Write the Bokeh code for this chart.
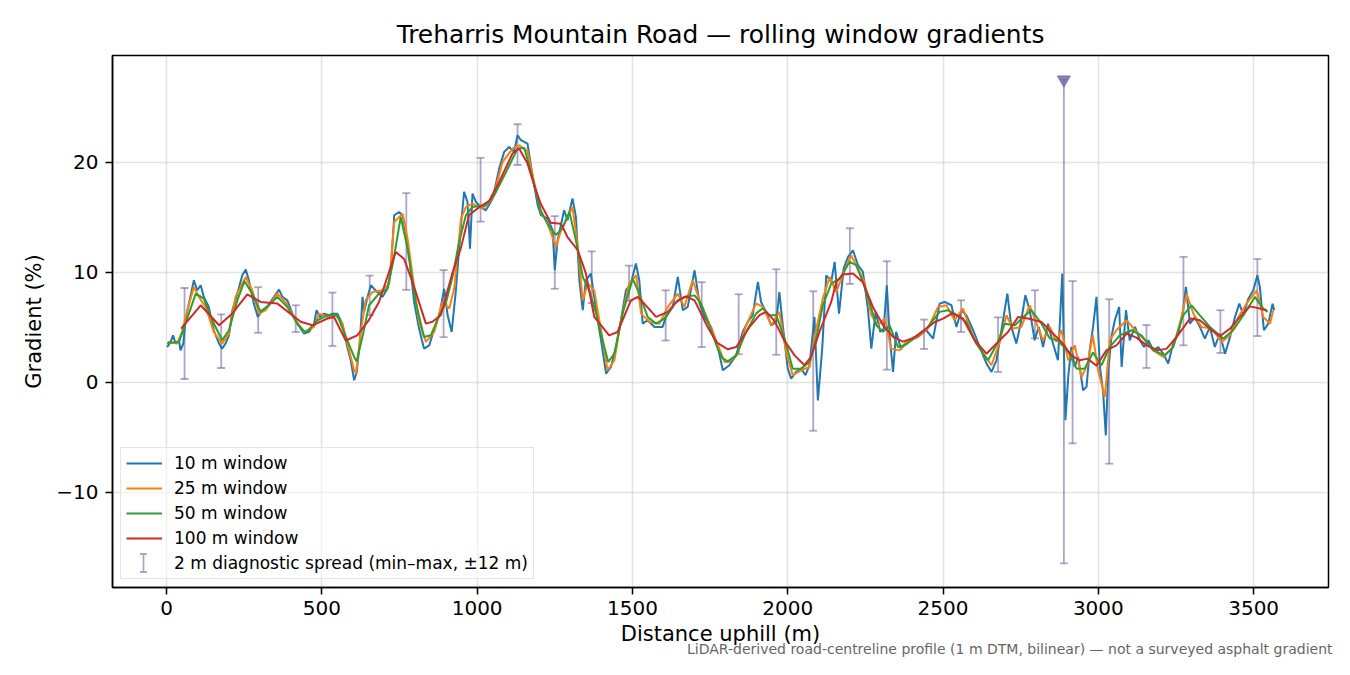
import numpy as np
from bokeh.plotting import figure
from bokeh.models import (Range1d, FixedTicker, Legend, LegendItem, Title, Whisker, TeeHead,
                          ColumnDataSource)
from bokeh.embed import file_html
from bokeh.resources import INLINE

# ---------------- data ----------------
w10_x = [2,13,21,29,40,45,54,61,72,88,99,110,120,136,152,169,179,190,201,212,228,244,255,265,281,294,308,324,346,362,373,389,405,421,443,459,475,483,494,507,523,534,550,566,582,593,604,612,622,631,636,647,658,668,679,695,711,722,733,749,760,770,781,797,813,829,846,862,878,894,905,918,931,948,958,969,977,985,996,1012,1028,1050,1071,1087,1103,1119,1130,1141,1162,1178,1195,1205,1227,1243,1250,1259,1280,1291,1307,1318,1329,1340,1350,1366,1383,1399,1415,1431,1447,1463,1479,1495,1511,1522,1533,1549,1571,1597,1608,1630,1646,1662,1678,1700,1716,1732,1753,1775,1791,1812,1834,1855,1871,1887,1904,1914,1930,1947,1963,1973,1984,2000,2011,2027,2043,2057,2070,2086,2097,2111,2124,2140,2151,2165,2180,2194,2210,2226,2242,2258,2269,2283,2298,2309,2319,2328,2339,2349,2365,2382,2392,2419,2446,2468,2489,2505,2527,2543,2559,2575,2597,2618,2640,2656,2672,2688,2707,2720,2736,2752,2765,2779,2795,2808,2822,2838,2854,2870,2884,2894,2903,2913,2924,2935,2951,2962,2972,2983,2994,3005,3015,3024,3032,3042,3053,3067,3075,3089,3101,3118,3134,3147,3161,3177,3193,3209,3225,3241,3257,3273,3282,3295,3311,3327,3343,3359,3375,3391,3408,3424,3440,3454,3467,3483,3499,3512,3520,3533,3547,3561,3566]
w10_y = [3.2,3.67,4.27,3.52,3.82,2.9,3.52,5.64,7.15,9.27,8.36,8.82,7.76,6.85,4.73,3.52,3.06,3.52,4.27,6.55,8.06,9.73,10.24,9.27,7.15,5.94,6.55,6.85,7.76,8.42,7.76,7.45,6.24,5.33,4.42,4.58,5.33,6.55,5.94,6.24,6.09,6.24,6.24,5.33,3.2,2.0,0.18,0.9,3.5,7.76,6.4,7.76,8.82,8.5,8.2,7.76,8.5,10.03,15.18,15.48,15.18,13.67,11.55,7.3,4.88,3.06,3.36,4.88,6.09,8.5,6.09,4.58,8.2,14.27,17.3,16.39,12.15,17.15,16.39,15.94,15.63,16.7,19.42,20.94,21.39,20.94,22.45,22.0,21.7,18.82,16.09,15.2,14.88,13.82,10.18,12.9,15.63,14.72,16.7,15.03,9.27,6.55,9.27,9.88,6.55,3.82,0.79,1.39,3.21,5.64,8.36,8.97,10.79,9.27,5.33,5.64,5.03,5.03,5.94,6.85,9.57,6.55,6.85,10.18,7.15,5.94,5.03,3.21,1.1,1.55,2.45,4.58,5.48,6.09,9.12,7.3,6.4,5.18,5.48,8.2,5.18,1.24,0.33,0.94,1.24,0.64,1.55,5.94,-1.64,3.06,9.73,9.12,10.94,6.24,10.33,11.39,12.0,10.64,10.03,6.7,3.06,6.39,4.58,4.88,8.82,4.27,0.94,4.58,3.0,3.67,3.82,4.12,4.73,3.97,7.15,7.3,7.0,5.03,6.55,6.09,4.73,3.21,1.7,0.94,2.0,4.73,8.06,5.03,3.52,5.64,7.91,6.55,3.82,5.03,3.21,5.33,3.52,2.0,9.88,-3.45,0.48,3.21,1.39,2.3,-0.73,-0.42,2.9,5.03,7.76,1.39,-0.73,-4.82,1.09,4.12,5.64,6.85,1.39,6.55,3.82,5.03,3.82,3.21,3.82,2.9,3.21,2.6,1.7,3.52,4.42,6.55,8.67,5.33,5.94,5.03,3.97,5.03,3.21,4.42,2.6,4.12,5.94,7.15,6.09,7.6,8.36,9.73,8.67,4.73,5.33,7.15,6.55]

w25_x = [4,34,50,67,88,104,126,152,179,201,222,255,276,298,319,357,383,416,443,475,491,518,545,566,588,604,610,625,641,663,695,717,733,760,776,792,813,835,862,888,910,926,948,964,985,1017,1050,1082,1114,1136,1162,1185,1205,1227,1254,1270,1291,1307,1324,1340,1356,1377,1399,1420,1442,1463,1490,1512,1528,1555,1587,1614,1646,1667,1694,1716,1743,1775,1796,1812,1839,1866,1898,1920,1947,1973,1995,2016,2043,2070,2092,2113,2135,2156,2183,2204,2226,2247,2269,2290,2312,2333,2360,2382,2409,2451,2484,2511,2537,2564,2597,2629,2656,2682,2704,2725,2752,2779,2801,2822,2844,2865,2881,2903,2924,2946,2965,2982,2999,3021,3037,3058,3091,3123,3150,3177,3209,3241,3268,3284,3306,3332,3365,3397,3424,3451,3477,3510,3531,3553,3563]
w25_y = [3.67,3.52,4.58,6.55,8.67,7.76,6.85,4.58,3.52,4.42,7.76,9.57,8.36,6.24,6.55,8.06,7.3,5.64,4.58,5.03,6.24,5.94,6.09,5.33,2.9,1.09,0.8,4.5,7.45,8.2,8.36,8.97,14.57,15.33,13.06,9.73,5.48,3.67,4.58,7.3,6.7,8.5,14.88,15.94,16.24,15.79,16.7,20.03,21.24,21.54,21.0,18.0,15.5,14.42,12.3,13.8,15.03,15.94,12.3,7.45,8.97,8.36,4.73,1.09,2.0,5.64,8.97,9.73,6.24,5.48,5.33,6.85,8.06,6.85,9.27,7.45,5.64,3.4,1.85,1.85,2.6,5.18,7.15,6.85,5.18,6.4,2.76,0.64,1.09,1.39,4.88,7.6,9.57,8.2,10.18,11.55,10.33,9.12,6.09,5.18,5.79,3.06,2.9,3.67,3.97,4.88,6.85,7.0,5.64,6.7,4.12,2.6,1.55,3.67,6.09,4.88,5.03,7.0,5.33,3.82,5.03,3.67,4.73,2.0,3.36,0.48,1.6,4.3,1.1,-1.33,3.82,4.73,5.64,4.58,3.82,2.9,2.3,3.21,5.94,8.06,6.24,5.03,4.88,3.67,4.27,5.94,7.15,8.36,5.94,5.33,6.55]

w50_x = [2,40,61,94,120,147,179,201,228,251,276,303,335,357,389,421,448,486,518,550,582,604,612,632,652,684,711,730,754,776,802,829,851,878,899,920,942,964,985,1028,1055,1093,1130,1152,1178,1205,1232,1254,1275,1297,1318,1340,1361,1383,1404,1422,1442,1468,1501,1522,1549,1576,1603,1635,1667,1700,1721,1753,1775,1790,1807,1834,1866,1898,1920,1941,1963,1990,2016,2043,2070,2092,2113,2140,2167,2199,2220,2242,2263,2285,2307,2328,2355,2376,2398,2409,2451,2489,2516,2543,2575,2607,2645,2677,2698,2731,2758,2784,2817,2844,2870,2903,2930,2956,2983,3010,3037,3069,3107,3139,3177,3214,3241,3273,3300,3327,3359,3402,3434,3467,3504,3531,3545]
w50_y = [3.58,3.67,5.33,8.06,7.6,5.64,3.82,4.73,7.45,9.21,8.06,6.4,7.15,7.76,6.85,5.33,4.49,5.64,6.09,6.09,3.82,2.3,1.9,4.3,7.0,8.06,8.5,11.0,15.03,12.15,7.3,4.12,4.27,6.09,7.15,9.5,12.76,15.2,15.94,16.1,17.0,19.1,21.24,21.3,18.6,15.6,14.1,13.4,14.0,15.5,12.9,9.57,8.36,6.24,3.82,1.85,2.6,6.24,9.42,8.06,5.94,5.33,5.79,7.15,7.76,7.9,7.15,4.73,3.0,2.2,1.9,2.45,4.58,6.24,6.76,6.09,6.09,3.97,1.24,1.24,1.85,3.97,7.0,8.97,9.42,10.94,10.64,9.12,7.3,5.18,4.58,5.18,3.2,3.36,3.8,4.12,5.03,6.4,6.55,6.09,5.48,3.5,2.0,3.67,5.33,5.18,5.94,6.55,5.33,3.97,3.82,2.76,1.24,1.24,2.7,1.55,3.21,4.27,4.73,4.27,2.9,2.45,3.21,6.09,7.0,6.09,5.03,3.97,4.73,6.09,7.76,6.7,6.4]

w100_x = [47,110,169,210,260,303,357,432,470,518,539,577,614,650,684,738,765,792,835,856,883,921,947,974,1006,1039,1071,1114,1135,1162,1185,1205,1237,1270,1291,1324,1350,1377,1425,1452,1495,1517,1538,1576,1614,1646,1673,1700,1742,1772,1807,1834,1877,1909,1930,1957,1989,2022,2054,2075,2102,2140,2156,2178,2210,2242,2274,2307,2339,2371,2398,2419,2473,2500,2532,2564,2602,2640,2677,2709,2742,2774,2817,2849,2881,2913,2940,2965,2994,3026,3058,3091,3123,3155,3193,3220,3252,3295,3327,3359,3391,3424,3456,3488,3520,3542]
w100_y = [4.88,7.0,5.18,6.2,8.0,7.3,7.15,5.5,5.18,5.8,5.94,3.8,4.27,5.6,7.3,11.85,11.2,9.1,5.33,5.5,6.1,10.0,12.15,15.2,15.9,16.5,18.2,20.8,21.25,19.9,17.8,16.2,14.5,14.4,13.2,12.0,9.9,5.94,4.27,4.57,7.45,7.75,7.15,5.94,6.4,7.45,7.8,7.45,5.03,3.6,3.0,3.2,5.03,6.1,6.4,5.6,3.8,2.45,1.55,2.3,4.57,7.3,9.1,9.8,9.88,9.1,6.85,5.18,4.12,3.7,3.97,4.27,5.48,5.79,6.3,5.79,3.8,2.6,3.67,4.57,5.94,5.79,5.48,4.57,3.67,2.45,2.0,2.15,1.5,2.9,3.36,4.42,4.06,3.36,2.9,3.06,4.12,5.79,5.63,4.88,4.18,4.88,5.94,6.9,6.7,6.55]

# 2 m diagnostic spread (min / max within +-12 m)
err_x = [58,176,295,416,534,654,772,892,1011,1130,1250,1369,1489,1607,1723,1842,1963,2082,2200,2319,2439,2558,2677,2796,2889,2917,3035,3155,3274,3393,3512]
err_lo = [0.3,1.3,4.5,4.57,3.3,6.1,8.4,4.1,14.6,19.75,8.5,7.2,7.4,3.8,3.2,2.55,2.5,-4.4,8.94,1.15,3.03,4.57,0.94,4.0,-16.45,-5.55,-7.4,1.3,3.36,2.67,4.2]
err_hi = [8.57,6.18,8.64,7.0,8.15,9.7,17.2,10.2,20.4,23.45,15.1,11.9,10.6,8.36,9.1,8.0,10.27,8.27,14.0,11.0,5.7,7.45,5.9,8.36,27.5,9.2,7.55,5.2,11.4,6.55,11.2]

# spread clipped at the top of the axes
clip_x = [2889]
clip_y = [27.5]

x_ticks = [0, 500, 1000, 1500, 2000, 2500, 3000, 3500]
y_ticks = [-10, 0, 10, 20]
y_tick_labels = {-10: "\u221210", 0: "0", 10: "10", 20: "20"}

series_labels = ["10 m window", "25 m window", "50 m window", "100 m window"]
err_label = "2 m diagnostic spread (min\u2013max, \u00b112 m)"
title_text = "Treharris Mountain Road \u2014 rolling window gradients"
note_text = "LiDAR-derived road-centreline profile (1 m DTM, bilinear) \u2014 not a surveyed asphalt gradient"

# ---------------- styling ----------------
FONT = "DejaVu Sans"
COLORS = ["#1f77b4", "#ff7f0e", "#2ca02c", "#d62728"]
ERR = "#7a68a6"
ERR_UNDER_LEGEND = "#5f4a94"   # seen through the half-transparent legend box it matches ERR at alpha 0.6
X0, X1 = -174, 3741
Y0, Y1 = -18.65, 29.7
FRAME_W, FRAME_H = 1216, 532
px_per_m = FRAME_W / (X1 - X0)
px_per_pct = FRAME_H / (Y1 - Y0)

p = figure(width=1334, height=659, output_backend="svg", toolbar_location=None,
           x_range=Range1d(X0, X1), y_range=Range1d(Y0, Y1),
           min_border_left=112, min_border_right=6, min_border_top=55, min_border_bottom=72,
           background_fill_color="white", border_fill_color="white")

p.title.text = title_text
p.title.align = "center"
p.title.text_font = FONT
p.title.text_font_size = "24.9px"
p.title.text_font_style = "normal"
p.title.text_color = "black"
p.title.standoff = 13

p.outline_line_color = "black"
p.outline_line_width = 1.5
p.outline_line_alpha = 1.0

p.xaxis.ticker = FixedTicker(ticks=x_ticks)
p.yaxis.ticker = FixedTicker(ticks=y_ticks)
p.yaxis.major_label_overrides = y_tick_labels
p.xaxis.axis_label = "Distance uphill (m)"
p.yaxis.axis_label = "Gradient (%)"
for ax in (p.xaxis, p.yaxis):
    ax.axis_label_text_font = FONT
    ax.axis_label_text_font_size = "21px"
    ax.axis_label_text_font_style = "normal"
    ax.axis_label_text_color = "black"
    ax.major_label_text_font = FONT
    ax.major_label_text_font_size = "20px"
    ax.major_label_text_color = "black"
    ax.major_tick_in = 0
    ax.major_tick_out = 7
    ax.major_tick_line_width = 1.5
    ax.major_tick_line_color = "black"
    ax.minor_tick_line_color = None
    ax.axis_line_width = 1.5
    ax.axis_line_color = "black"
p.xaxis.major_label_standoff = 6
p.yaxis.major_label_standoff = 7
p.xaxis.axis_label_standoff = 4
p.yaxis.axis_label_standoff = 7

for g in (p.xgrid, p.ygrid):
    g.grid_line_color = "#b0b0b0"
    g.grid_line_alpha = 0.35
    g.grid_line_width = 1.5

# error bars (drawn underneath the lines)
p.segment(x0=err_x, y0=err_lo, x1=err_x, y1=err_hi,
          line_color=ERR, line_alpha=0.6, line_width=1.8)
p.scatter(x=err_x + err_x, y=err_lo + err_hi, marker="dash", size=8,
          line_color=ERR, line_alpha=0.6, line_width=1.8)
p.scatter(x=clip_x, y=clip_y, marker="inverted_triangle", size=13,
          fill_color=ERR, line_color=ERR, fill_alpha=0.85, line_alpha=0.85)

renderers = []
for xs, ys, c in zip([w10_x, w25_x, w50_x, w100_x], [w10_y, w25_y, w50_y, w100_y], COLORS):
    renderers.append(p.line(xs, ys, line_color=c, line_width=2))

# legend entry for the error bars: invisible renderer + an "I" whisker at the legend's glyph slot
proxy = p.line(x=[X0 - 5000, X0 - 4000], y=[Y0 - 500, Y0 - 500], line_alpha=0)

items = [LegendItem(label=lab, renderers=[r]) for lab, r in zip(series_labels, renderers)]
items.append(LegendItem(label=err_label, renderers=[proxy]))
LEG_MARGIN, LEG_PAD, GLYPH_W, ROW_H = 8, 5, 36, 25
legend = Legend(items=items, location="bottom_left")
legend.label_text_font = FONT
legend.label_text_font_size = "17px"
legend.label_text_color = "black"
legend.glyph_width = GLYPH_W
legend.glyph_height = 20
legend.label_height = 20
legend.label_standoff = 12
legend.spacing = 5
legend.padding = LEG_PAD
legend.margin = LEG_MARGIN
legend.border_line_color = "#cccccc"
legend.border_line_width = 1.5
legend.background_fill_color = "white"
legend.background_fill_alpha = 0.5
p.add_layout(legend)

sym_x = X0 + (LEG_MARGIN + LEG_PAD + GLYPH_W / 2) / px_per_m
sym_yc = Y0 + (LEG_MARGIN + LEG_PAD + ROW_H / 2 - 1) / px_per_pct
sym_src = ColumnDataSource(data=dict(base=[sym_x], lower=[sym_yc - 9 / px_per_pct],
                                     upper=[sym_yc + 9 / px_per_pct]))
sym = Whisker(source=sym_src, base="base", lower="lower", upper="upper", dimension="height",
              line_color=ERR_UNDER_LEGEND, line_alpha=1.0, line_width=1.8, level="overlay",
              upper_head=TeeHead(size=7, line_color=ERR_UNDER_LEGEND, line_alpha=1.0, line_width=1.8),
              lower_head=TeeHead(size=7, line_color=ERR_UNDER_LEGEND, line_alpha=1.0, line_width=1.8))
p.add_layout(sym)

# footnote under the axis label, right-aligned near the figure's right edge
note = Title(text=note_text, align="right", vertical_align="top", text_font=FONT,
             text_font_size="14px", text_font_style="normal", text_color="#666666",
             offset=-4, standoff=-15)
p.add_layout(note, "below")

open("out.html", "w").write(file_html(p, INLINE))
